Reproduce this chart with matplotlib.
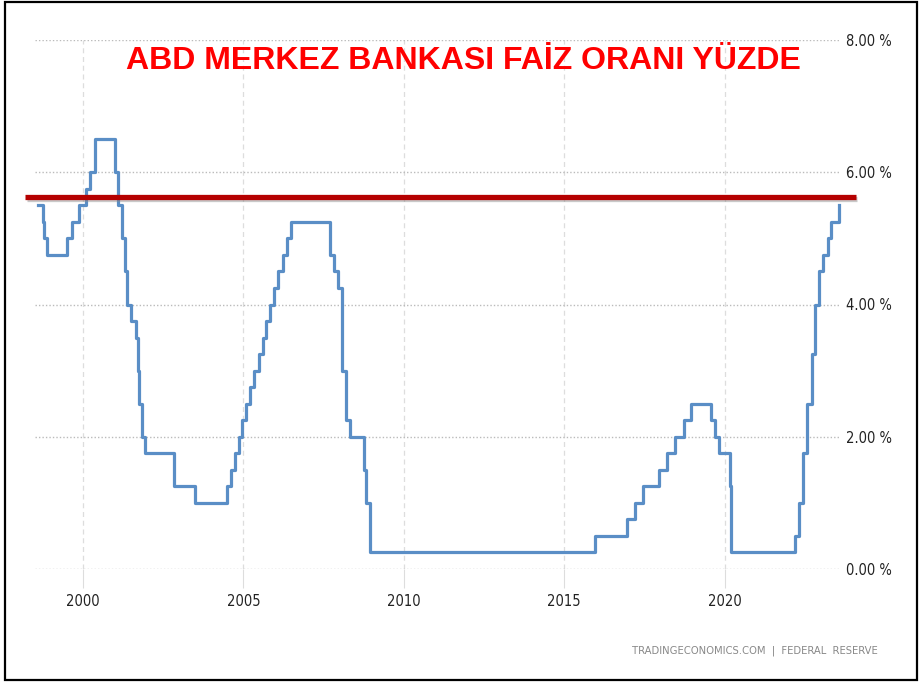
import numpy as np
import pandas as pd
import matplotlib.pyplot as plt
import matplotlib.patheffects as pe
from matplotlib.patches import Rectangle
from matplotlib import font_manager

# Fed funds target rate (upper bound), change dates and new levels
change_dates = [
    "1998-08-01", "1998-09-29", "1998-10-15", "1998-11-17", "1999-06-30", "1999-08-24",
    "1999-11-16", "2000-02-02", "2000-03-21", "2000-05-16", "2001-01-03", "2001-01-31",
    "2001-03-20", "2001-04-18", "2001-05-15", "2001-06-27", "2001-08-21", "2001-09-17",
    "2001-10-02", "2001-11-06", "2001-12-11", "2002-11-06", "2003-06-25", "2004-06-30",
    "2004-08-10", "2004-09-21", "2004-11-10", "2004-12-14", "2005-02-02", "2005-03-22",
    "2005-05-03", "2005-06-30", "2005-08-09", "2005-09-20", "2005-11-01", "2005-12-13",
    "2006-01-31", "2006-03-28", "2006-05-10", "2006-06-29", "2007-09-18", "2007-10-31",
    "2007-12-11", "2008-01-22", "2008-01-30", "2008-03-18", "2008-04-30", "2008-10-08",
    "2008-10-29", "2008-12-16", "2015-12-16", "2016-12-14", "2017-03-15", "2017-06-14",
    "2017-12-13", "2018-03-21", "2018-06-13", "2018-09-26", "2018-12-19", "2019-07-31",
    "2019-09-18", "2019-10-30", "2020-03-03", "2020-03-15", "2022-03-16", "2022-05-04",
    "2022-06-15", "2022-07-27", "2022-09-21", "2022-11-02", "2022-12-14", "2023-02-01",
    "2023-03-22", "2023-05-03", "2023-07-26", "2023-08-01",
]
rates = [
    5.5, 5.25, 5.0, 4.75, 5.0, 5.25,
    5.5, 5.75, 6.0, 6.5, 6.0, 5.5,
    5.0, 4.5, 4.0, 3.75, 3.5, 3.0,
    2.5, 2.0, 1.75, 1.25, 1.0, 1.25,
    1.5, 1.75, 2.0, 2.25, 2.5, 2.75,
    3.0, 3.25, 3.5, 3.75, 4.0, 4.25,
    4.5, 4.75, 5.0, 5.25, 4.75, 4.5,
    4.25, 3.5, 3.0, 2.25, 2.0, 1.5,
    1.0, 0.25, 0.5, 0.75, 1.0, 1.25,
    1.5, 1.75, 2.0, 2.25, 2.5, 2.25,
    2.0, 1.75, 1.25, 0.25, 0.5, 1.0,
    1.75, 2.5, 3.25, 4.0, 4.5, 4.75,
    5.0, 5.25, 5.5, 5.5,
]
ref_level = 5.63
year_ticks = [2000, 2005, 2010, 2015, 2020]
y_ticks = [0, 2, 4, 6, 8]
y_labels = ["0.00 %", "2.00 %", "4.00 %", "6.00 %", "8.00 %"]

d = pd.to_datetime(change_dates)
x = d.year + (d.dayofyear - 1) / 365.25

# narrow tick font, if a condensed face is around
names = {f.name for f in font_manager.fontManager.ttflist}
narrow = "Liberation Sans Narrow" if "Liberation Sans Narrow" in names else "DejaVu Sans"
tick_font = font_manager.FontProperties(family=narrow, stretch="condensed", size=10.5)
mark_font = font_manager.FontProperties(family=narrow, stretch="condensed", size=8)

fig = plt.figure(figsize=(9.21, 6.82), dpi=100)
ax = fig.add_axes([35 / 921, 1 - 569 / 682, 805 / 921, 529 / 682])

ax.step(x, rates, where="post", color="#5a8ec6", lw=2.3, clip_on=False, zorder=3)

# red reference line with a soft shadow
ax.plot([1998.2, 2024.1], [ref_level, ref_level], color="#b50000", lw=3.8,
        solid_capstyle="butt", clip_on=False, zorder=4,
        path_effects=[pe.SimpleLineShadow(offset=(1, -2), shadow_color="#888888", alpha=0.45),
                      pe.Normal()])

ax.set_xlim(1998.5, 2023.6)
ax.set_ylim(0, 8)
for s in ax.spines.values():
    s.set_visible(False)

ax.set_xticks(year_ticks)
ax.set_xticklabels([str(t) for t in year_ticks])
ax.set_yticks(y_ticks)
ax.set_yticklabels(y_labels)
ax.yaxis.tick_right()
ax.tick_params(axis="x", length=14, color="#dddddd", pad=4, labelcolor="#222222")
ax.tick_params(axis="y", length=0, pad=4, labelcolor="#222222")
for lab in ax.get_xticklabels() + ax.get_yticklabels():
    lab.set_fontproperties(tick_font)

ax.grid(axis="x", color="#dddddd", ls=(0, (4, 3)), lw=0.9)
ax.grid(axis="y", color="#bbbbbb", ls=(0, (1, 1.5)), lw=1.0)
ax.set_axisbelow(True)

fig.text(463 / 921, 1 - 61 / 682, "ABD MERKEZ BANKASI FAİZ ORANI YÜZDE",
         color="#ff0000", fontsize=23, fontweight="bold", family="Liberation Sans",
         ha="center", va="center")
fig.text(878 / 921, 1 - 651 / 682, "TRADINGECONOMICS.COM  |  FEDERAL  RESERVE",
         color="#888888", fontproperties=mark_font, ha="right", va="center")

fig.patches.append(Rectangle((5 / 921, 2 / 682), 912 / 921, 678 / 682, transform=fig.transFigure,
                             fill=False, edgecolor="black", lw=1.6))

fig.savefig("out.png", dpi=100)
